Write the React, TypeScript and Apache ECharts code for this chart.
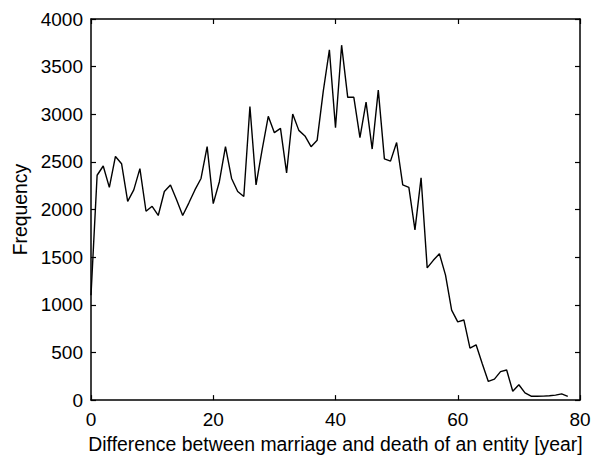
import React, { useEffect, useRef } from "react";
import * as echarts from "echarts";

const years: number[] = Array.from({ length: 79 }, (_, i) => i);
const frequency: number[] = [
  1100, 2360, 2457, 2233, 2557, 2481, 2086, 2206, 2429, 1982,
  2034, 1938, 2189, 2258, 2103, 1938, 2068, 2206, 2326, 2660,
  2062, 2292, 2660, 2326, 2189, 2137, 3082, 2258, 2630, 2979,
  2807, 2852, 2385, 3003, 2831, 2773, 2660, 2728, 3243, 3676,
  2859, 3725, 3178, 3178, 2756, 3127, 2635, 3254, 2532, 2508,
  2704, 2258, 2233, 1787, 2333, 1388, 1467, 1536, 1312, 944,
  821, 841, 546, 580, 385, 196, 220, 299, 316, 93,
  161, 75, 41, 40, 42, 46, 52, 65, 40,
];
const xTicks = [0, 20, 40, 60, 80];
const yTicks = [0, 500, 1000, 1500, 2000, 2500, 3000, 3500, 4000];

const FONT = "Liberation Sans, Arial, Helvetica, sans-serif";

export default function App() {
  const ref = useRef<HTMLDivElement>(null);
  useEffect(() => {
    if (!ref.current) return;
    const chart = echarts.init(ref.current, undefined, { renderer: "svg" });
    const axisLine = { show: true, onZero: false, lineStyle: { color: "#000", width: 1.5 } };
    const tick = { show: true, inside: true, length: 5, lineStyle: { color: "#000", width: 1.2 } };
    const fmt = (v: number) => String(v);
    chart.setOption({
      animation: false,
      backgroundColor: "#fff",
      grid: { left: 91, right: 16, top: 19, bottom: 52, containLabel: false },
      xAxis: [
        {
          type: "value",
          min: xTicks[0],
          max: xTicks[xTicks.length - 1],
          interval: 20,
          position: "bottom",
          name: "Difference between marriage and death of an entity [year]",
          nameLocation: "middle",
          nameGap: 28,
          nameTextStyle: { fontFamily: FONT, fontSize: 19.4, color: "#000" },
          axisLine,
          axisTick: tick,
          axisLabel: { fontFamily: FONT, fontSize: 19, color: "#000", margin: 10, formatter: fmt },
          splitLine: { show: false },
        },
        {
          type: "value",
          min: 0,
          max: 80,
          interval: 20,
          position: "top",
          axisLine,
          axisTick: tick,
          axisLabel: { show: false },
          splitLine: { show: false },
        },
      ],
      yAxis: [
        {
          type: "value",
          min: yTicks[0],
          max: yTicks[yTicks.length - 1],
          interval: 500,
          position: "left",
          name: "Frequency",
          nameLocation: "middle",
          nameGap: 60,
          nameTextStyle: { fontFamily: FONT, fontSize: 19.4, color: "#000" },
          axisLine,
          axisTick: tick,
          axisLabel: { fontFamily: FONT, fontSize: 19, color: "#000", margin: 8, formatter: fmt },
          splitLine: { show: false },
        },
        {
          type: "value",
          min: 0,
          max: 4000,
          interval: 500,
          position: "right",
          axisLine,
          axisTick: tick,
          axisLabel: { show: false },
          splitLine: { show: false },
        },
      ],
      series: [
        {
          type: "line",
          data: years.map((y, i) => [y, frequency[i]]),
          showSymbol: false,
          symbol: "none",
          lineStyle: { color: "#000", width: 1.4 },
          xAxisIndex: 0,
          yAxisIndex: 0,
        },
      ],
    });
    return () => chart.dispose();
  }, []);
  return <div ref={ref} style={{ width: 596, height: 458, position: "absolute", left: 0, top: 0 }} />;
}
